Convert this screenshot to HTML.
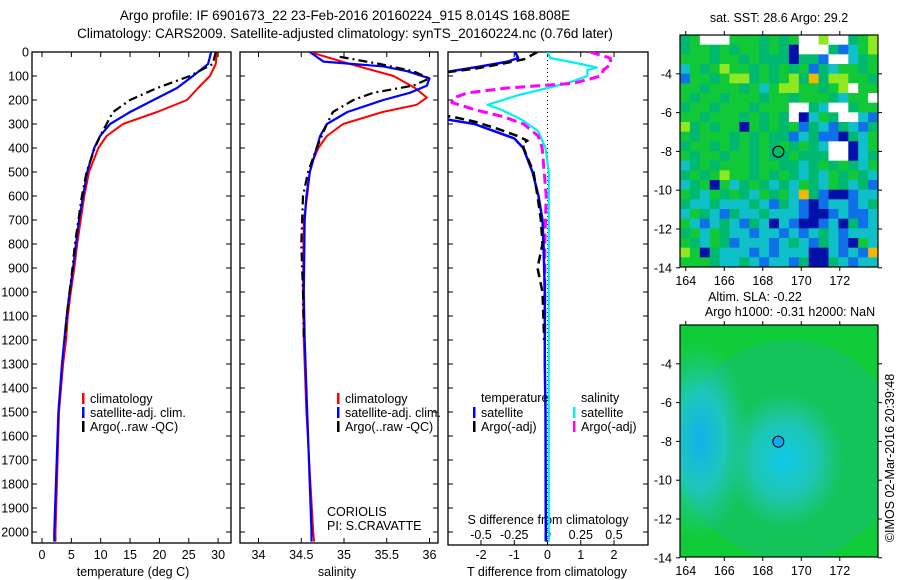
<!DOCTYPE html>
<html><head><meta charset="utf-8">
<style>
html,body{margin:0;padding:0;background:#fff;}
svg{display:block;font-family:"Liberation Sans",sans-serif;}
text{font-size:12.5px;fill:#000;}
</style></head>
<body>
<svg id="fig" width="900" height="580" viewBox="0 0 900 580">
<defs>
<clipPath id="c1"><rect x="32" y="52" width="199" height="491"/></clipPath>
<clipPath id="c2"><rect x="240" y="52" width="198" height="491"/></clipPath>
<clipPath id="c3"><rect x="448" y="52" width="200" height="493"/></clipPath>
<clipPath id="cm2"><rect x="680" y="325" width="198" height="232"/></clipPath>
<radialGradient id="g1" cx="0.5" cy="0.5" r="0.5"><stop offset="0" stop-color="#10b0f0"/><stop offset="0.5" stop-color="#20c8d0" stop-opacity="0.8"/><stop offset="1" stop-color="#20c8a0" stop-opacity="0"/></radialGradient>
<radialGradient id="g2" cx="0.5" cy="0.5" r="0.5"><stop offset="0" stop-color="#10c8e8"/><stop offset="0.55" stop-color="#20c8c8" stop-opacity="0.8"/><stop offset="1" stop-color="#20c8a0" stop-opacity="0"/></radialGradient>
</defs>
<g id="root"></g>
</svg>
<script>
// ---------- data ----------
const depthTicks=[0,100,200,300,400,500,600,700,800,900,1000,1100,1200,1300,1400,1500,1600,1700,1800,1900,2000];
const tempTicks=[0,5,10,15,20,25,30];
const salTicks=[34,34.5,35,35.5,36];
const salTickLabels=["34","34.5","35","35.5","36"];
const tdiffTicks=[-2,-1,0,1,2];
const sdiffTicks=[-0.5,-0.25,0,0.25,0.5];
const sdiffLabels=["-0.5","-0.25","0","0.25","0.5"];
const lonTicks=[164,166,168,170,172];
const latTicks=[-4,-6,-8,-10,-12,-14];

const tClimDepth=[0,50,100,150,200,250,300,350,400,500,600,700,800,900,1000,1100,1200,1300,1500,2000,2040];
const tClimVal=[29.8,29.6,28.6,26.6,24.7,19.6,13.8,11,9.6,8,7.2,6.6,6,5.5,4.9,4.4,4.1,3.6,2.9,2.3,2.3];
const tSatDepth=[0,50,100,150,200,250,300,350,400,500,600,700,800,900,1000,1100,1200,1300,1500,2000,2040];
const tSatVal=[28.8,28.3,25.7,23,19,15,11.6,9.9,8.9,7.7,7,6.3,5.8,5.3,4.7,4.2,3.8,3.4,2.8,2.1,2.1];
const tArgoDepth=[0,50,100,150,200,250,300,350,400,500,600,700,800,900,1000,1100,1200];
const tArgoVal=[29.6,29.1,25.2,19.6,15,12.1,11,9.9,9,7.6,6.8,6.2,5.6,5.2,4.7,4.2,3.9];

const sClimDepth=[0,50,100,150,190,220,250,300,350,400,450,500,600,700,1000,1200,1500,2000,2040];
const sClimVal=[34.6,35.07,35.58,35.83,35.97,35.85,35.45,34.99,34.8,34.7,34.64,34.6,34.57,34.53,34.52,34.53,34.56,34.64,34.65];
const sSatDepth=[0,40,60,80,110,140,170,200,250,300,350,450,500,600,700,1000,1200,1500,2000,2040];
const sSatVal=[34.6,34.76,35.46,35.74,36.0,35.97,35.77,35.46,35.04,34.8,34.72,34.64,34.6,34.56,34.54,34.53,34.54,34.57,34.62,34.62];
const sArgoDepth=[20,50,80,110,140,170,200,250,300,400,500,600,800,1000,1200];
const sArgoVal=[34.95,35.42,35.81,36.0,35.81,35.34,35.11,34.87,34.8,34.68,34.58,34.52,34.5,34.52,34.53];

const dTSatDepth=[0,25,40,60,80,100,270,300,330,360,400,500,600,700,800,1000,1300,1500,2000,2040];
const dTSatVal=[-0.97,-0.88,-1.2,-2.0,-2.9,-3.5,-3.5,-2.2,-1.6,-1.0,-0.73,-0.45,-0.27,-0.15,-0.12,-0.08,-0.08,-0.06,-0.05,-0.05];
const dTArgoDepth=[0,30,50,70,90,260,270,290,320,350,370,380,400,450,500,600,700,800,900,1000,1200];
const dTArgoVal=[-0.3,-0.7,-1.4,-2.2,-3.4,-3.4,-2.85,-2.2,-1.5,-0.9,-0.6,-0.75,-0.72,-0.57,-0.42,-0.3,-0.2,-0.15,-0.3,-0.15,-0.1];
const dSSatDepth=[0,25,50,65,75,100,130,150,180,220,240,280,330,400,500,1000,2040];
const dSSatVal=[0,0.02,0.25,0.37,0.3,0.3,0.15,0,-0.22,-0.45,-0.35,-0.2,-0.07,-0.015,0.01,0.01,0.01];
const dSArgoDepth=[0,25,50,75,100,130,150,170,190,210,240,270,300,350,400,600,800,1200];
const dSArgoVal=[0.32,0.47,0.48,0.42,0.4,0.2,-0.3,-0.6,-0.7,-0.72,-0.55,-0.33,-0.18,-0.07,-0.04,-0.01,-0.02,-0.02];

const sstRows=[
"tgwwwgggtgtgwwywwtgy","tggtgtggtgtnwwwtbcgy","gggtggtgtttnttbwwctg","cgtgyggtgtgtgbtcggtg",
"bggtgyytgtgytotyyggt","ggtgggtgcgyyggtgywgg","gtggtgggtggtgggtcggw","tggtgggtgggwwtcwwtgg",
"ggtgggtgtgtwncgtwwcb","ytgtggngtgtgbtcbtcbt","gtgggtgtgttbctbbntcg","tggtgtgtgtgtgtcwwncg",
"gtggtggtgttgtttwwnct","ctgtgggtggttctgtgtcg","tgtgyggtgtgtctcgtgtc","ctgngctgtctcgtcgtctb",
"gtcgtgtcgtgcotbnnbcc","tcctccctcbtcbnbccbct","cgtcbtcctcccbnnbcbbc","gcbctcbtcncbnnbcntbc",
"tgcgtccbccbcbctcbccc","gtcgtbcccbctcbtcbngc","ygntcccbcbcccnncbcbo","gggtcctcbccbtnntcbcc"];
const sstColors={g:"#10c838",t:"#00b870",c:"#10c0c8",b:"#1070e8",n:"#0010a8",y:"#90e820",o:"#f0b800",w:"#ffffff"};
const argoLon=168.808, argoLat=-8.014;

// ---------- helpers ----------
const NS="http://www.w3.org/2000/svg";
const root=document.getElementById('root');
function mk(tag,attrs,parent){const e=document.createElementNS(NS,tag);for(const k in attrs)e.setAttribute(k,attrs[k]);(parent||root).appendChild(e);return e;}
function txt(x,y,s,anchor,parent,extra){const t=mk('text',Object.assign({x:x,y:y,'text-anchor':anchor||'start'},extra||{}),parent);t.textContent=s;return t;}
const Y=d=>52+d*0.24;
const xT=v=>42+v*5.87;
const xS=v=>258.5+(v-34)*85.5;
const xDT=v=>547.5+v*33.25;
const xDS=v=>547.5+v*133;
function path(depths,vals,xf,style,clip,name){
  let d='';for(let i=0;i<depths.length;i++)d+=(i?'L':'M')+xf(vals[i]).toFixed(1)+' '+Y(depths[i]).toFixed(1);
  const p=mk('path',Object.assign({d:d,fill:'none','clip-path':'url(#'+clip+')','stroke-linejoin':'round'},style));
  
  
  return p;}

// titles
const t1=txt(345,20,"Argo profile: IF 6901673_22 23-Feb-2016 20160224_915 8.014S 168.808E","middle",null,{style:'font-size:13.5px'});


const t2=txt(345,38,"Climatology: CARS2009. Satellite-adjusted climatology: synTS_20160224.nc (0.76d later)","middle",null,{style:'font-size:13.5px'});



// panel boxes
const panels=[[32,231,'temperature-panel'],[240,438,'salinity-panel'],[448,648,'difference-panel']];
panels.forEach(p=>{const r=mk('rect',{x:p[0],y:52,width:p[1]-p[0],height:p[2]=='difference-panel'?493:491,fill:'none',stroke:'#000','stroke-width':1.3});
 
 
 depthTicks.forEach(d=>{mk('line',{x1:p[0],x2:p[0]+5,y1:Y(d),y2:Y(d),stroke:'#000'});mk('line',{x1:p[1]-5,x2:p[1],y1:Y(d),y2:Y(d),stroke:'#000'});});
});
depthTicks.forEach(d=>{const t=txt(29,Y(d)+4.5,String(d),'end');
 
 });
tempTicks.forEach(v=>{mk('line',{x1:xT(v),x2:xT(v),y1:543,y2:538,stroke:'#000'});mk('line',{x1:xT(v),x2:xT(v),y1:52,y2:57,stroke:'#000'});
 const t=txt(xT(v),559,String(v),'middle');
 
 });
salTicks.forEach((v,i)=>{mk('line',{x1:xS(v),x2:xS(v),y1:543,y2:538,stroke:'#000'});mk('line',{x1:xS(v),x2:xS(v),y1:52,y2:57,stroke:'#000'});
 const t=txt(xS(v),559,salTickLabels[i],'middle');
 
 });
tdiffTicks.forEach(v=>{mk('line',{x1:xDT(v),x2:xDT(v),y1:545,y2:540,stroke:'#000'});
 const t=txt(xDT(v),559,String(v),'middle');
 
 });
sdiffTicks.forEach((v,i)=>{mk('line',{x1:xDS(v),x2:xDS(v),y1:52,y2:57,stroke:'#000'});
 const t=txt(xDS(v),539,sdiffLabels[i],'middle');
 
 });
[["temperature (deg C)",133,'temperature-axis-title'],["salinity",337,'salinity-axis-title'],["T difference from climatology",547,'tdiff-axis-title']].forEach(a=>{
 const t=txt(a[1],576,a[0],'middle');});
const sdt=txt(548,524,"S difference from climatology",'middle');



// zero line
const zl=mk('line',{x1:547.5,x2:547.5,y1:52,y2:545,stroke:'#000','stroke-dasharray':'1,3'});



// series
const red={stroke:'#f00','stroke-width':2}, blue={stroke:'#00f','stroke-width':2.2}, blk={stroke:'#000','stroke-width':2.2,'stroke-dasharray':'9,4,2,4'};
path(tClimDepth,tClimVal,xT,red,'c1','temp-climatology-line');
path(tSatDepth,tSatVal,xT,blue,'c1','temp-satellite-line');
path(tArgoDepth,tArgoVal,xT,blk,'c1','temp-argo-line');
path(sClimDepth,sClimVal,xS,red,'c2','sal-climatology-line');
path(sSatDepth,sSatVal,xS,blue,'c2','sal-satellite-line');
path(sArgoDepth,sArgoVal,xS,blk,'c2','sal-argo-line');
path(dSSatDepth,dSSatVal,xDS,{stroke:'#00f0f0','stroke-width':2.2},'c3','sdiff-satellite-line');
path(dSArgoDepth,dSArgoVal,xDS,{stroke:'#f0f','stroke-width':3,'stroke-dasharray':'10,5'},'c3','sdiff-argo-line');
path(dTSatDepth,dTSatVal,xDT,{stroke:'#00f','stroke-width':2.5},'c3','tdiff-satellite-line');
path(dTArgoDepth,dTArgoVal,xDT,{stroke:'#000','stroke-width':2.5,'stroke-dasharray':'9,5'},'c3','tdiff-argo-line');

// legends
function leg(x,y,color,label,name){const g=mk('g',{});
 mk('rect',{x:x,y:y-9,width:2.5,height:11,fill:color},g);txt(x+8,y+1,label,'start',g);}
[[82,'climatology','#f00'],[82,'satellite-adj. clim.','#00f'],[82,'Argo(..raw -QC)','#000']].forEach((l,i)=>leg(l[0],402+i*14,l[2],l[1],'temp-legend-entry'));
[[337,'climatology','#f00'],[337,'satellite-adj. clim.','#00f'],[337,'Argo(..raw -QC)','#000']].forEach((l,i)=>leg(l[0],402+i*14,l[2],l[1],'sal-legend-entry'));
txt(481,402,'temperature');txt(581,402,'salinity');
leg(473,416,'#00f','satellite','tdiff-legend-entry');leg(473,430,'#000','Argo(-adj)','tdiff-legend-entry');
leg(573,416,'#00f0f0','satellite','sdiff-legend-entry');leg(573,430,'#f0f','Argo(-adj)','sdiff-legend-entry');
txt(327,516,'CORIOLIS');txt(327,530,'PI: S.CRAVATTE');

// maps
const LX=v=>680+(v-163.7)*19.25;
function mapAxes(top,name){
 const LY=v=>top+(-2-v)*19.4;
 const r=mk('rect',{x:680,y:top,width:198,height:232,fill:'none',stroke:'#000','stroke-width':1.2});
 
 
 lonTicks.forEach(v=>{mk('line',{x1:LX(v),x2:LX(v),y1:top,y2:top-4,stroke:'#000'});mk('line',{x1:LX(v),x2:LX(v),y1:top+232,y2:top+236,stroke:'#000'});
  const t=txt(LX(v),top+250,String(v),'middle');});
 latTicks.forEach(v=>{mk('line',{x1:676,x2:680,y1:LY(v),y2:LY(v),stroke:'#000'});mk('line',{x1:878,x2:882,y1:LY(v),y2:LY(v),stroke:'#000'});
  const t=txt(672,LY(v)+4.5,String(v),'end');});
 return LY;}
// SST cells
const cw=198/20, ch=232/24;
sstRows.forEach((row,r)=>{for(let c=0;c<20;c++){const cell=mk('rect',{x:(680+c*cw).toFixed(2),y:(35+r*ch).toFixed(2),width:cw+0.4,height:ch+0.4,fill:sstColors[row[c]]});
 
 }});
const LY1=mapAxes(35,'sst-map');
const c1=mk('circle',{cx:LX(argoLon),cy:LY1(argoLat),r:5.5,fill:'none',stroke:'#000','stroke-width':1.2});


const st=txt(779,22,'sat. SST: 28.6 Argo: 29.2','middle');



// SLA map
const bg=mk('rect',{x:680,y:325,width:198,height:232,fill:'#10cc38'});


const gg=mk('g',{'clip-path':'url(#cm2)'});
mk('ellipse',{cx:790,cy:450,rx:110,ry:110,fill:'#18bc70',opacity:0.6},gg);
mk('ellipse',{cx:700,cy:440,rx:50,ry:100,fill:'url(#g1)'},gg);
mk('ellipse',{cx:785,cy:460,rx:60,ry:70,fill:'url(#g2)'},gg);
const LY2=mapAxes(325,'sla-map');
const c2=mk('circle',{cx:LX(argoLon),cy:LY2(argoLat),r:5.5,fill:'#10a8f0',stroke:'#000','stroke-width':1});


const s1=txt(755,301,'Altim. SLA: -0.22','middle');


const s2=txt(790,316,'Argo h1000: -0.31 h2000: NaN','middle');


const cr=txt(0,0,'©IMOS 02-Mar-2016 20:39:48','middle',null,{transform:'translate(894,458) rotate(-90)'});


</script>
</body></html>
